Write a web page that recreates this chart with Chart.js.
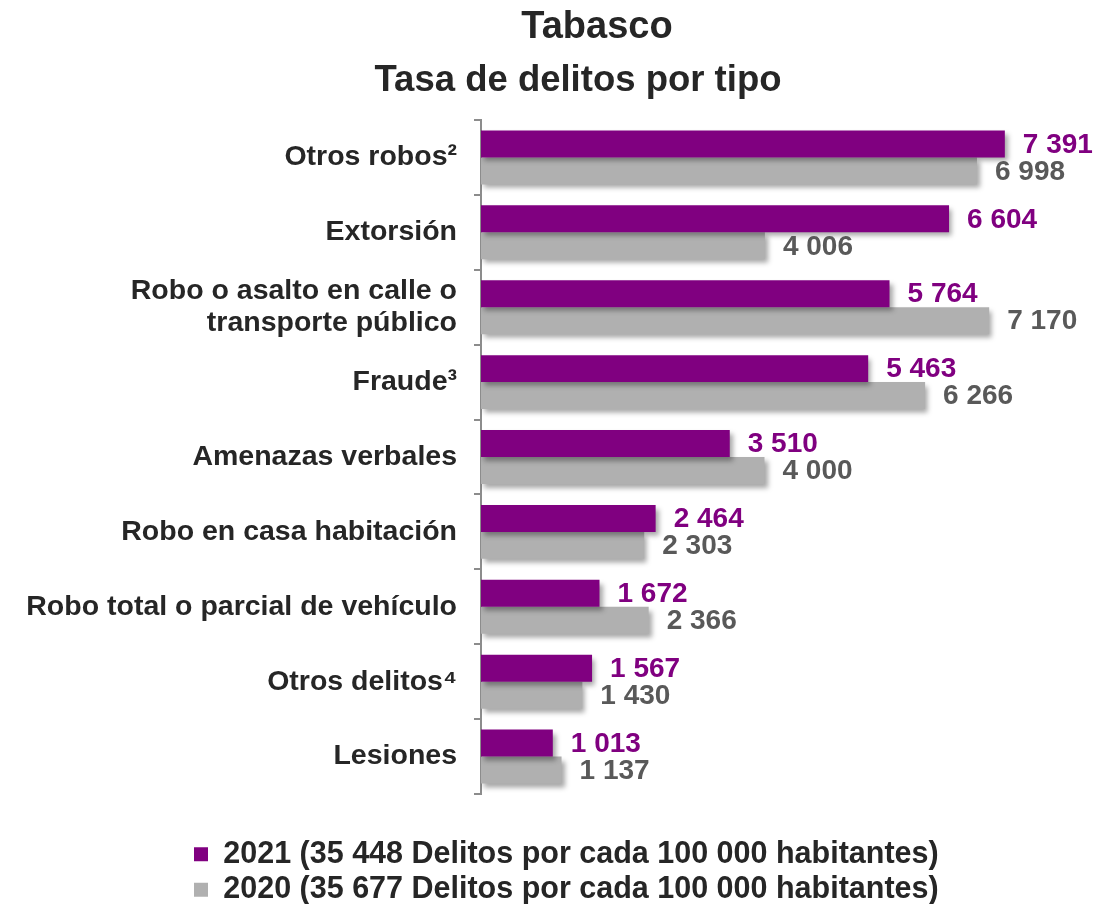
<!DOCTYPE html>
<html lang="es">
<head>
<meta charset="utf-8">
<title>Tabasco - Tasa de delitos por tipo</title>
<script src="https://cdn.jsdelivr.net/npm/chart.js@4.4.1/dist/chart.umd.min.js"></script>
<style>
    html, body { margin: 0; padding: 0; background: #fff; }
    #wrap { position: relative; width: 1099px; height: 904px; }
    .titulo {
        position: absolute;
        transform: translateX(-50%);
        white-space: nowrap;
        font-family: 'Liberation Sans', Arial, sans-serif;
        font-weight: bold;
        color: #262626;
        margin: 0;
    }
    #t1 { left: 597px; top: 6px; font-size: 38px; line-height: 38px; }
    #t2 { left: 578px; top: 61px; font-size: 36.5px; line-height: 36px; }
</style>
</head>
<body>
<div id="wrap">
    <canvas id="delitosChart" width="1099" height="904"></canvas>
    <h1 class="titulo" id="t1">Tabasco</h1>
    <h2 class="titulo" id="t2">Tasa de delitos por tipo</h2>
</div>

<script>
// datos
const categorias = [
    'Otros robos²',
    'Extorsión',
    ['Robo o asalto en calle o', 'transporte público'],
    'Fraude³',
    'Amenazas verbales',
    'Robo en casa habitación',
    'Robo total o parcial de vehículo',
    'Otros delitos⁴',
    'Lesiones'
];
const tasa2021 = [7391, 6604, 5764, 5463, 3510, 2464, 1672, 1567, 1013];
const tasa2020 = [6998, 4006, 7170, 6266, 4000, 2303, 2366, 1430, 1137];
const leyenda2021 = '2021 (35 448 Delitos por cada 100 000 habitantes)';
const leyenda2020 = '2020 (35 677 Delitos por cada 100 000 habitantes)';

const MORADO = '#800080';
const GRIS = '#B0B0B0';
const FUENTE = "'Liberation Sans', Arial, sans-serif";

function formatoMiles(v) {
    return String(v).replace(/\B(?=(\d{3})+(?!\d))/g, ' ');
}

// sombra debajo de las barras
const sombraBarras = {
    id: 'sombraBarras',
    beforeDatasetDraw(chart) {
        const ctx = chart.ctx;
        ctx.save();
        ctx.shadowColor = 'rgba(0, 0, 0, 0.35)';
        ctx.shadowBlur = 5;
        ctx.shadowOffsetX = 3;
        ctx.shadowOffsetY = 4;
    },
    afterDatasetDraw(chart) {
        chart.ctx.restore();
    }
};

// etiquetas de valor al final de cada barra
const etiquetasValor = {
    id: 'etiquetasValor',
    afterDatasetsDraw(chart) {
        const ctx = chart.ctx;
        ctx.save();
        ctx.font = 'bold 28px ' + FUENTE;
        ctx.textAlign = 'left';
        ctx.textBaseline = 'middle';
        chart.data.datasets.forEach((ds, i) => {
            const meta = chart.getDatasetMeta(i);
            ctx.fillStyle = ds.labelColor;
            meta.data.forEach((bar, j) => {
                ctx.fillText(formatoMiles(ds.data[j]), bar.x + 18, bar.y + 1);
            });
        });
        ctx.restore();
    }
};

// la leyenda va alineada a la izquierda pero empezando en x=189
const moverLeyenda = {
    id: 'moverLeyenda',
    afterLayout(chart) {
        const lg = chart.legend;
        const ancho = lg.right - lg.left;
        lg.left = 189;
        lg.right = lg.left + ancho;
    }
};

new Chart(document.getElementById('delitosChart'), {
    type: 'bar',
    data: {
        labels: categorias,
        datasets: [
            {
                label: leyenda2021,
                data: tasa2021,
                backgroundColor: MORADO,
                labelColor: MORADO,
                categoryPercentage: 0.72,
                barPercentage: 1
            },
            {
                label: leyenda2020,
                data: tasa2020,
                backgroundColor: GRIS,
                labelColor: '#595959',
                categoryPercentage: 0.72,
                barPercentage: 1
            }
        ]
    },
    options: {
        indexAxis: 'y',
        responsive: false,
        animation: false,
        layout: {
            padding: { top: 120, left: 0, right: 51, bottom: 0 }
        },
        scales: {
            x: {
                min: 0,
                max: 8000,
                ticks: { display: false },
                grid: { display: false },
                border: { display: false },
                afterFit(scale) { scale.height = 40; }
            },
            y: {
                grid: {
                    drawOnChartArea: false,
                    drawTicks: true,
                    tickLength: 7,
                    color: '#8C8C8C',
                    lineWidth: 2
                },
                border: { display: true, color: '#8C8C8C', width: 2 },
                ticks: {
                    color: '#262626',
                    padding: 17,
                    font: { family: FUENTE, size: 28.5, weight: 'bold', lineHeight: 1.1 }
                },
                afterFit(scale) { scale.width = 481; }
            }
        },
        plugins: {
            tooltip: { enabled: false },
            legend: {
                position: 'bottom',
                align: 'start',
                maxHeight: 70,
                labels: {
                    boxWidth: 14,
                    boxHeight: 14,
                    padding: 5,
                    color: '#262626',
                    font: { family: FUENTE, size: 30.5, weight: 'bold' }
                }
            }
        }
    },
    plugins: [sombraBarras, etiquetasValor, moverLeyenda]
});
</script>
</body>
</html>
